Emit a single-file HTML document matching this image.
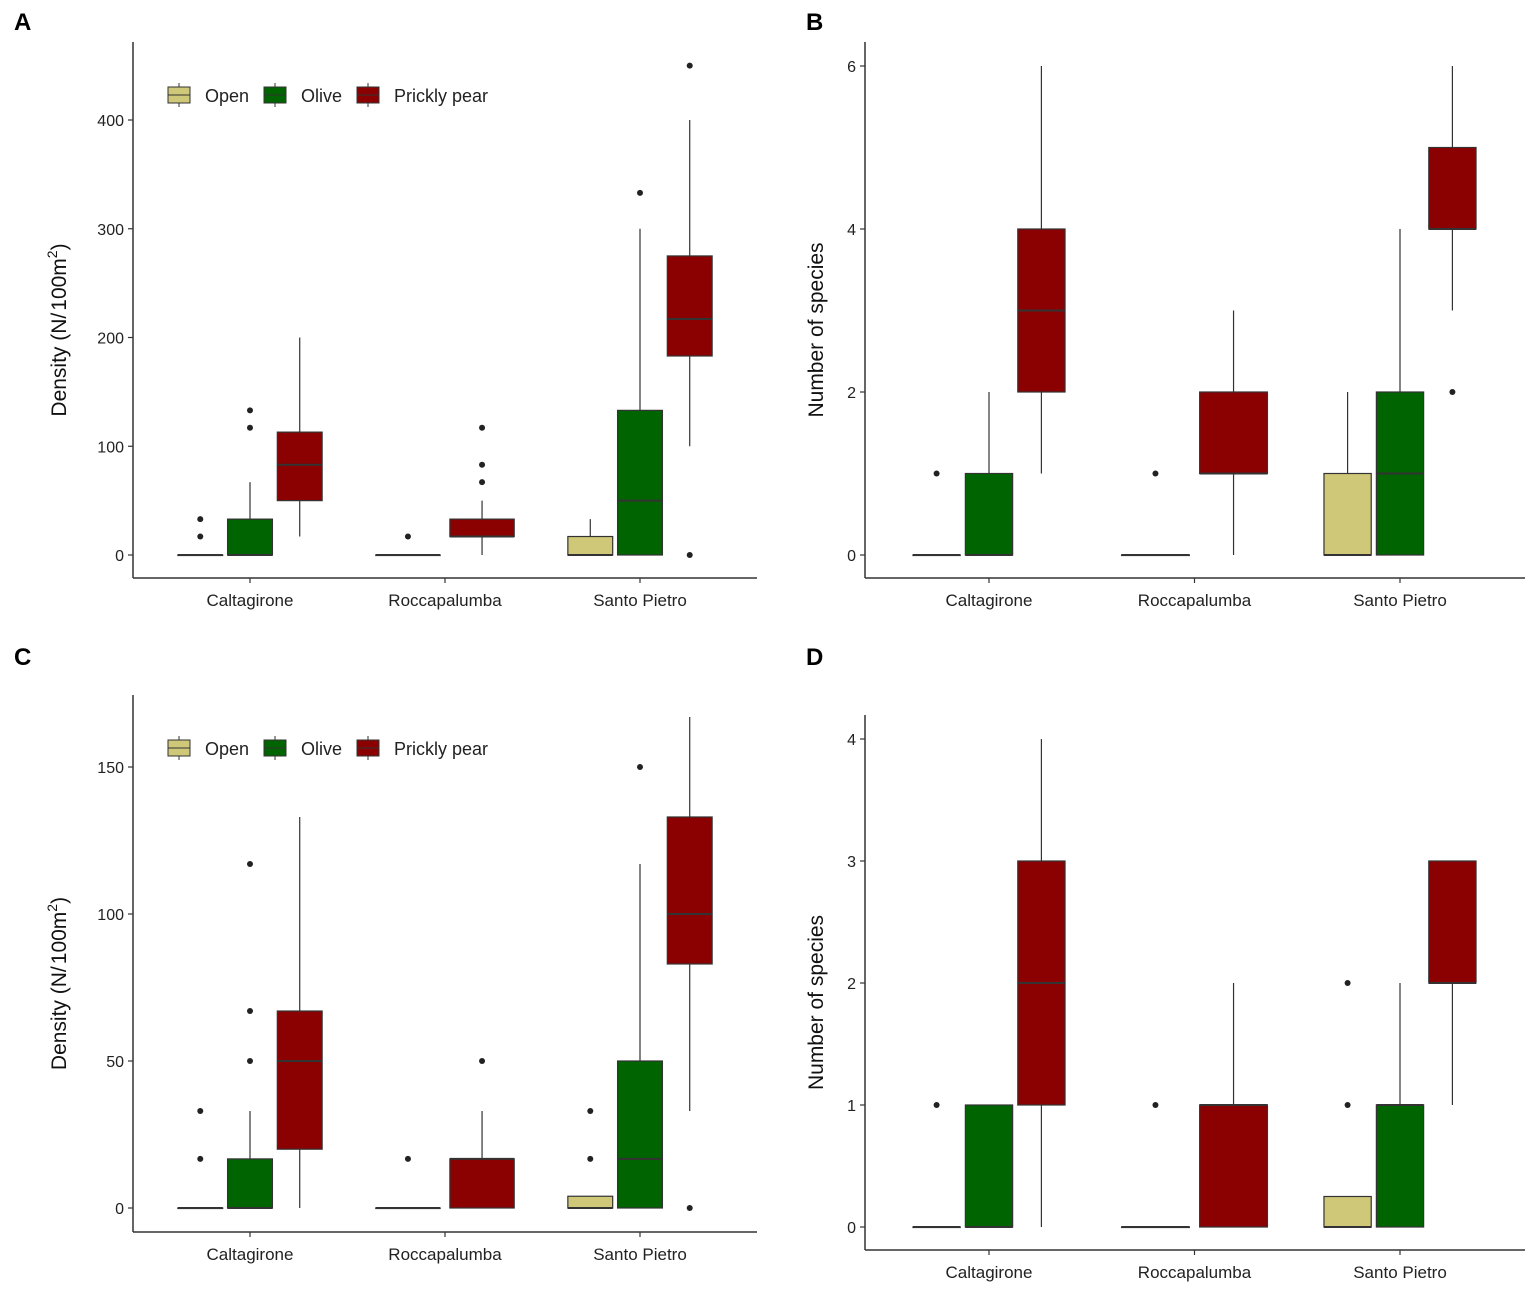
<!DOCTYPE html>
<html><head><meta charset="utf-8"><style>
body{margin:0;background:#fff;}
svg{display:block;font-family:"Liberation Sans",Arial,sans-serif;}
</style></head><body>
<svg id="fig" width="1535" height="1292" viewBox="0 0 1535 1292">
<text x="14" y="30" font-size="24" font-weight="bold">A</text>
<text x="806" y="30" font-size="24" font-weight="bold">B</text>
<text x="14" y="665" font-size="24" font-weight="bold">C</text>
<text x="806" y="665" font-size="24" font-weight="bold">D</text>
</svg>
<script>
// Shared
const categories = ["Caltagirone","Roccapalumba","Santo Pietro"];
const groupNames = ["Open","Olive","Prickly pear"];
const groupColors = ["#CFC878","#006400","#8B0000"];
// groups present per category
const groupsPresent = [[0,1,2],[0,2],[0,1,2]];

// Panel A stats [lo,q1,med,q3,hi] per category/group present
const statsA = [[[0,0,0,0,0],[0,0,0,33,67],[17,50,83,113,200]],[[0,0,0,0,0],[0,17,17,33,50]],[[0,0,0,17,33],[0,0,50,133,300],[100,183,217,275,400]]];
const outliersA = [[[17,33],[117,133],[]],[[17],[67,83,117]],[[],[333],[0,450]]];
const ticksA = [0,100,200,300,400];
// Panel B
const statsB = [[[0,0,0,0,0],[0,0,0,1,2],[1,2,3,4,6]],[[0,0,0,0,0],[0,1,1,2,3]],[[0,0,0,1,2],[0,0,1,2,4],[3,4,4,5,6]]];
const outliersB = [[[1],[],[]],[[1],[]],[[],[],[2]]];
const ticksB = [0,2,4,6];
// Panel C
const statsC = [[[0,0,0,0,0],[0,0,0,16.7,33],[0,20,50,67,133]],[[0,0,0,0,0],[0,0,16.7,16.7,33]],[[0,0,0,4,4],[0,0,16.7,50,117],[33,83,100,133,167]]];
const outliersC = [[[16.7,33],[50,67,117],[]],[[16.7],[50]],[[16.7,33],[150],[0]]];
const ticksC = [0,50,100,150];
// Panel D
const statsD = [[[0,0,0,0,0],[0,0,0,1,1],[0,1,2,3,4]],[[0,0,0,0,0],[0,0,1,1,2]],[[0,0,0,0.25,0.25],[0,0,1,1,2],[1,2,2,3,3]]];
const outliersD = [[[1],[],[]],[[1],[]],[[1,2],[],[]]];
const ticksD = [0,1,2,3,4];

const NS="http://www.w3.org/2000/svg";
const svg=document.getElementById('fig');
function mk(tag,attrs,parent){const e=document.createElementNS(NS,tag);for(const k in attrs)e.setAttribute(k,attrs[k]);(parent||svg).appendChild(e);return e;}

function panel(cfg){
  const g=mk('g',{});
  
  
  const y=v=>cfg.y0+(v-cfg.v0)*(cfg.y1-cfg.y0)/(cfg.v1-cfg.v0);
  const band=cfg.band;
  const cx=i=>cfg.cx0+i*band;
  const ya=mk('line',{x1:cfg.ax,y1:cfg.top,x2:cfg.ax,y2:cfg.bottom,stroke:'#333','stroke-width':1.5},g);
  
  const xa=mk('line',{x1:cfg.ax,y1:cfg.bottom,x2:cfg.right,y2:cfg.bottom,stroke:'#333','stroke-width':1.5},g);
  
  cfg.ticks.forEach(t=>{
    mk('line',{x1:cfg.ax-5,x2:cfg.ax,y1:y(t),y2:y(t),stroke:'#333','stroke-width':1.2},g);
    const tx=mk('text',{x:cfg.ax-9,y:y(t)+6,'text-anchor':'end','font-size':16,fill:'#222'},g);
    tx.textContent=t;
    
  });
  categories.forEach((c,i)=>{
    mk('line',{x1:cx(i),x2:cx(i),y1:cfg.bottom,y2:cfg.bottom+5,stroke:'#333','stroke-width':1.2},g);
    const tx=mk('text',{x:cx(i),y:cfg.bottom+28,'text-anchor':'middle','font-size':17,fill:'#222'},g);
    tx.textContent=c;
    
  });
  const yt=mk('text',{transform:`translate(${cfg.ax-cfg.titleOff},${(cfg.top+cfg.bottom)/2+20}) rotate(-90)`,'text-anchor':'middle','font-size':21,fill:'#111'},g);
  
  if(cfg.density){
    yt.innerHTML='Density (N/<tspan dx="2">100m</tspan><tspan dy="-9" font-size="14">2</tspan><tspan dy="9">)</tspan>';
  } else yt.textContent='Number of species';
  categories.forEach((c,i)=>{
    const gp=groupsPresent[i];
    const n=gp.length;
    const w=n===3?band*0.23:band*0.33;
    const off=n===3?band*0.255:band*0.19;
    gp.forEach((gi,k)=>{
      const center=cx(i)+(k-(n-1)/2)*(n===3?off:off*2);
      const s=cfg.stats[i][k];
      const bg=mk('g',{},g);
      
      
      mk('line',{x1:center,x2:center,y1:y(s[0]),y2:y(s[1]),stroke:'#333','stroke-width':1.2},bg);
      mk('line',{x1:center,x2:center,y1:y(s[3]),y2:y(s[4]),stroke:'#333','stroke-width':1.2},bg);
      mk('rect',{x:center-w/2,y:y(s[3]),width:w,height:Math.max(y(s[1])-y(s[3]),0.5),fill:groupColors[gi],stroke:'#333','stroke-width':1.2},bg);
      mk('line',{x1:center-w/2,x2:center+w/2,y1:y(s[2]),y2:y(s[2]),stroke:'#333','stroke-width':2},bg);
      cfg.outliers[i][k].forEach(o=>{
        const p=mk('circle',{cx:center,cy:y(o),r:3,fill:'#222'},bg);
        
      });
    });
  });
  if(cfg.legend){
    const lg=mk('g',{},g);
    
    const xs=[168,264,357];
    groupNames.forEach((nm,gi)=>{
      const ly=cfg.legendY;
      const e=mk('g',{},lg);
      
      mk('line',{x1:xs[gi]+11,x2:xs[gi]+11,y1:ly-12,y2:ly+12,stroke:'#333','stroke-width':1},e);
      mk('rect',{x:xs[gi],y:ly-8,width:22,height:16,fill:groupColors[gi],stroke:'#333','stroke-width':1},e);
      mk('line',{x1:xs[gi],x2:xs[gi]+22,y1:ly,y2:ly,stroke:'#333','stroke-width':1},e);
      const t=mk('text',{x:xs[gi]+37,y:ly+7,'font-size':18,fill:'#222'},e);
      t.textContent=nm;
    });
  }
}
panel({name:'panel-a',stats:statsA,outliers:outliersA,ticks:ticksA,v0:0,v1:400,y0:555,y1:120,ax:133,top:42,bottom:578,right:757,cx0:250,band:195,density:true,legend:true,legendY:95,titleOff:67});
panel({name:'panel-b',stats:statsB,outliers:outliersB,ticks:ticksB,v0:0,v1:6,y0:555,y1:66,ax:865,top:42,bottom:578,right:1525,cx0:989,band:205.5,density:false,titleOff:42});
panel({name:'panel-c',stats:statsC,outliers:outliersC,ticks:ticksC,v0:0,v1:150,y0:1208,y1:767,ax:133,top:695,bottom:1232,right:757,cx0:250,band:195,density:true,legend:true,legendY:748,titleOff:67});
panel({name:'panel-d',stats:statsD,outliers:outliersD,ticks:ticksD,v0:0,v1:4,y0:1227,y1:739,ax:865,top:715,bottom:1250,right:1525,cx0:989,band:205.5,density:false,titleOff:42});
</script>
</body></html>
